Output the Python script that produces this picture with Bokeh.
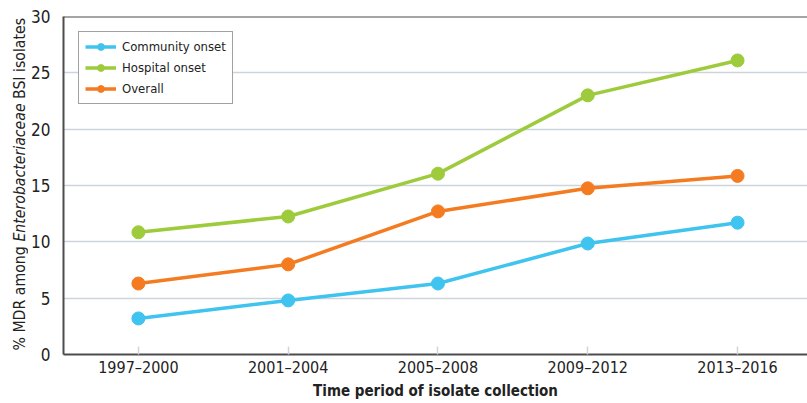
import math
from bokeh.plotting import figure
from bokeh.layouts import row
from bokeh.models import FixedTicker, Span, Legend, LegendItem
from bokeh.core.properties import value
from bokeh.embed import file_html
from bokeh.resources import INLINE

periods = ["1997–2000", "2001–2004", "2005–2008", "2009–2012", "2013–2016"]
community = [3.2, 4.8, 6.3, 9.85, 11.7]
hospital = [10.85, 12.25, 16.05, 23.0, 26.1]
overall = [6.3, 8.0, 12.7, 14.75, 15.85]

series = [
    ("Community onset", community, "#3fc4ef"),
    ("Hospital onset", hospital, "#9dcb3c"),
    ("Overall", overall, "#f47b20"),
]

ytitle_parts = ["% MDR among ", "Enterobacteriaceae", "BSI isolates"]

FONT = "'DejaVu Sans Condensed', Roboto, sans-serif"
xs = list(range(len(periods)))

LEFT_W = 28
TOTAL_H = 403
FRAME_H = 338.0  # frames of the two panels are aligned by the row layout

def frac(page_y):
    # convert a pixel row of the frame (top=16, bottom=354) to 0..30 units
    return (354 - page_y) / FRAME_H * 30

# ---- narrow panel carrying the rotated y-axis title ----
t = figure(width=LEFT_W, height=TOTAL_H, output_backend="svg", toolbar_location=None,
           x_range=(0, LEFT_W), y_range=(0, 30),
           min_border_left=0, min_border_right=0, min_border_top=16, min_border_bottom=49)
t.axis.visible = False
t.grid.visible = False
t.outline_line_color = None
t.border_fill_color = "white"
t.background_fill_color = "white"
common = dict(angle=math.pi / 2, text_font=value(FONT), text_font_size="15.7px",
              text_color="#222222", text_baseline="middle")
t.text(x=[19], y=[frac(350)], text=[ytitle_parts[0]], text_align="left", **common)
t.text(x=[19], y=[frac(172)], text=[ytitle_parts[1]], text_align="center",
       text_font_style="italic", **common)
t.text(x=[19], y=[frac(98.5)], text=[ytitle_parts[2]], text_align="left", **common)

# ---- main chart ----
p = figure(width=807 - LEFT_W, height=TOTAL_H, output_backend="svg", toolbar_location=None,
           x_range=(-0.5, 4.467), y_range=(0, 30),
           min_border_left=62 - LEFT_W, min_border_right=0, min_border_top=16,
           min_border_bottom=49)
p.outline_line_color = None
p.background_fill_color = "white"
p.border_fill_color = "white"

items = []
for name, vals, col in series:
    r1 = p.line(xs, vals, line_color=col, line_width=3.5)
    r2 = p.scatter(xs, vals, size=13, fill_color=col, line_color=col)
    items.append(LegendItem(label=name, renderers=[r1, r2]))

p.xaxis.ticker = FixedTicker(ticks=xs)
p.xaxis.major_label_overrides = {i: s for i, s in enumerate(periods)}
p.xaxis.major_tick_in = 8
p.xaxis.major_tick_out = 0
p.xaxis.major_tick_line_color = "#cfd5db"
p.xaxis.major_tick_line_width = 1.5
p.xaxis.minor_tick_line_color = None
p.xaxis.axis_line_color = "#4d4d4d"
p.xaxis.axis_line_width = 2
p.xaxis.major_label_text_font = FONT
p.xaxis.major_label_text_font_size = "16px"
p.xaxis.major_label_text_color = "#222222"
p.xaxis.major_label_standoff = 3
p.xaxis.axis_label = "Time period of isolate collection"
p.xaxis.axis_label_text_font = FONT
p.xaxis.axis_label_text_font_size = "15px"
p.xaxis.axis_label_text_font_style = "bold"
p.xaxis.axis_label_text_color = "#222222"
p.xaxis.axis_label_standoff = 2

p.yaxis.ticker = FixedTicker(ticks=[0, 5, 10, 15, 20, 25, 30])
p.yaxis.major_tick_line_color = None
p.yaxis.minor_tick_line_color = None
p.yaxis.axis_line_color = "#4d4d4d"
p.yaxis.axis_line_width = 2
p.yaxis.major_label_text_font = FONT
p.yaxis.major_label_text_font_size = "17px"
p.yaxis.major_label_text_color = "#222222"
p.yaxis.major_label_standoff = 7

p.xgrid.grid_line_color = None
p.ygrid.grid_line_color = "#cdd4db"
p.ygrid.grid_line_width = 1.5

p.add_layout(Span(location=30, dimension="width", line_color="#4d4d4d", line_width=2))

legend = Legend(items=items, location="top_left", margin=15, padding=6,
                spacing=4, glyph_width=31, glyph_height=17, label_height=17,
                label_standoff=6,
                label_text_font=FONT, label_text_font_size="13px",
                label_text_color="#222222",
                border_line_color="#444444", border_line_width=1.5,
                background_fill_alpha=1.0)
p.add_layout(legend)

layout = row(t, p, spacing=0)
open("out.html", "w").write(file_html(layout, INLINE))
